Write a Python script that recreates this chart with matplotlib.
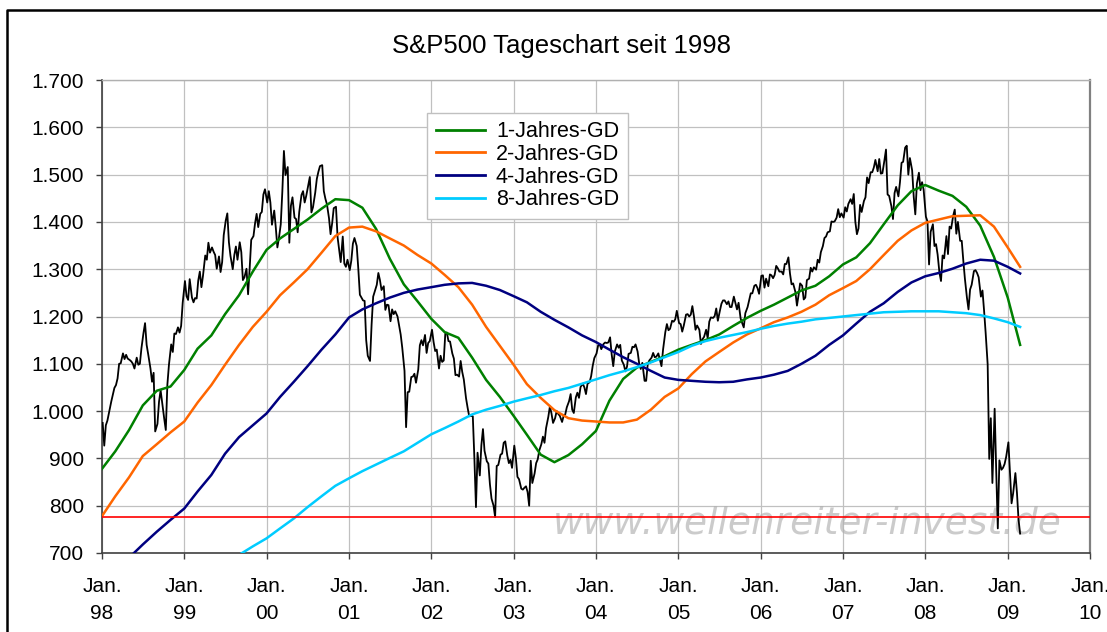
import numpy as np
import pandas as pd
import matplotlib
matplotlib.use("Agg")
import matplotlib.pyplot as plt
from matplotlib.ticker import FuncFormatter, MultipleLocator
from matplotlib.lines import Line2D

plt.rcParams['font.family'] = ['Liberation Sans', 'DejaVu Sans']

# ---------------- data (S&P 500, ~weekly, 4 values per month) ----------------
sp_1998 = [975, 927, 970, 980, 1003, 1020, 1034, 1049, 1055, 1069, 1100, 1101,
           1122, 1110, 1119, 1111, 1108, 1105, 1100, 1090, 1113, 1098, 1100, 1133,
           1165, 1186, 1140, 1120, 1090, 1062, 1081, 957, 973, 1020, 1044, 1017,
           984, 960, 1056, 1098, 1141, 1125, 1164, 1163, 1177, 1166, 1180, 1229]
sp_1999 = [1275, 1243, 1235, 1279, 1240, 1230, 1239, 1238, 1276, 1295, 1262, 1286,
           1329, 1320, 1356, 1335, 1346, 1337, 1330, 1301, 1327, 1294, 1315, 1372,
           1403, 1418, 1357, 1328, 1300, 1330, 1348, 1320, 1357, 1336, 1277, 1283,
           1301, 1247, 1301, 1362, 1370, 1397, 1417, 1389, 1417, 1421, 1458, 1469]
sp_2000 = [1441, 1465, 1441, 1394, 1424, 1388, 1346, 1366, 1395, 1464, 1550, 1499,
           1516, 1356, 1434, 1452, 1409, 1406, 1378, 1421, 1457, 1465, 1441, 1455,
           1478, 1495, 1420, 1431, 1462, 1491, 1506, 1518, 1520, 1465, 1449, 1437,
           1408, 1374, 1397, 1429, 1432, 1368, 1341, 1315, 1369, 1312, 1305, 1320]
sp_2001 = [1298, 1318, 1354, 1366, 1349, 1301, 1246, 1240, 1234, 1233, 1150, 1117,
           1106, 1183, 1242, 1253, 1267, 1292, 1277, 1256, 1264, 1214, 1225, 1224,
           1190, 1215, 1205, 1211, 1200, 1181, 1162, 1134, 1085, 966, 1040, 1041,
           1072, 1073, 1079, 1060, 1088, 1139, 1150, 1139, 1161, 1123, 1144, 1148]
sp_2002 = [1172, 1146, 1127, 1130, 1090, 1117, 1104, 1107, 1164, 1166, 1148, 1147,
           1122, 1111, 1076, 1077, 1073, 1106, 1083, 1067, 1027, 1007, 989, 990,
           989, 900, 797, 912, 864, 928, 962, 916, 894, 889, 845, 815,
           800, 776, 884, 886, 908, 910, 933, 936, 906, 890, 897, 880]
sp_2003 = [927, 901, 861, 856, 836, 834, 838, 841, 829, 800, 895, 848,
           868, 890, 898, 917, 930, 946, 933, 964, 988, 1010, 995, 975,
           985, 1000, 994, 990, 977, 990, 993, 1008, 1021, 1036, 1003, 996,
           1029, 1039, 1028, 1051, 1058, 1050, 1036, 1058, 1061, 1074, 1096, 1112]
sp_2004 = [1122, 1139, 1141, 1131, 1142, 1145, 1144, 1145, 1156, 1120, 1095, 1126,
           1141, 1134, 1140, 1107, 1098, 1084, 1094, 1121, 1123, 1136, 1135, 1141,
           1126, 1101, 1089, 1102, 1064, 1064, 1099, 1107, 1113, 1123, 1114, 1115,
           1122, 1108, 1095, 1130, 1167, 1184, 1171, 1174, 1191, 1189, 1194, 1212]
sp_2005 = [1186, 1184, 1168, 1181, 1204, 1205, 1200, 1204, 1222, 1200, 1172, 1181,
           1172, 1142, 1152, 1157, 1172, 1154, 1189, 1198, 1197, 1201, 1217, 1191,
           1212, 1227, 1234, 1234, 1226, 1232, 1220, 1220, 1242, 1228, 1215, 1229,
           1196, 1186, 1177, 1207, 1220, 1234, 1249, 1249, 1265, 1267, 1260, 1248]
sp_2006 = [1286, 1287, 1261, 1280, 1264, 1289, 1287, 1281, 1288, 1307, 1302, 1295,
           1295, 1289, 1311, 1311, 1325, 1291, 1268, 1270, 1252, 1223, 1245, 1270,
           1265, 1236, 1240, 1277, 1280, 1303, 1295, 1304, 1299, 1320, 1314, 1336,
           1349, 1366, 1369, 1378, 1380, 1401, 1400, 1401, 1409, 1427, 1410, 1418]
sp_2007 = [1409, 1431, 1422, 1438, 1448, 1438, 1459, 1400, 1374, 1386, 1436, 1421,
           1444, 1452, 1494, 1482, 1505, 1505, 1515, 1531, 1507, 1533, 1502, 1503,
           1530, 1553, 1458, 1455, 1433, 1406, 1461, 1474, 1454, 1484, 1525, 1527,
           1557, 1561, 1500, 1535, 1509, 1453, 1416, 1481, 1504, 1467, 1484, 1468]
sp_2008 = [1411, 1401, 1310, 1379, 1395, 1349, 1353, 1331, 1293, 1275, 1329, 1323,
           1370, 1332, 1390, 1386, 1413, 1426, 1375, 1400, 1360, 1360, 1318, 1280,
           1240, 1215, 1257, 1267, 1296, 1298, 1292, 1283, 1242, 1255, 1213, 1166,
           1099, 899, 985, 848, 1005, 873, 752, 896, 876, 880, 888, 903]
sp_2009 = [934, 870, 805, 826, 869, 827, 770, 741]

# Moving averages ("GD"), read every two months from Jan 1998, last point late Feb 2009
gd_1 = [878, 915, 960, 1012, 1043, 1052,
        1087, 1132, 1160, 1205, 1245, 1295,
        1341, 1365, 1385, 1405, 1428, 1448,
        1446, 1430, 1385, 1322, 1268, 1232,
        1195, 1167, 1155, 1113, 1066, 1030,
        990, 950, 908, 892, 907, 930,
        958, 1022, 1068, 1092, 1104, 1116,
        1130, 1140, 1150, 1162, 1180, 1197,
        1212, 1225, 1240, 1255, 1265, 1285,
        1310, 1325, 1355, 1395, 1435, 1465,
        1478, 1466, 1455, 1432, 1392, 1326,
        1240, 1140]
gd_2 = [778, 820, 860, 905, 930, 955,
        978, 1018, 1055, 1098, 1140, 1178,
        1210, 1245, 1272, 1300, 1335, 1370,
        1388, 1390, 1380, 1365, 1350, 1330,
        1312, 1288, 1262, 1225, 1178, 1138,
        1098, 1057, 1028, 1002, 985, 980,
        978, 976, 976, 982, 1003, 1030,
        1048, 1078, 1105, 1125, 1145, 1162,
        1175, 1188, 1198, 1210, 1225, 1245,
        1260, 1275, 1300, 1330, 1360, 1382,
        1398, 1405, 1412, 1413, 1414, 1390,
        1346, 1305]
gd_4 = [640, 665, 690, 718, 745, 770,
        794, 830, 865, 910, 945, 970,
        995, 1030, 1062, 1095, 1130, 1162,
        1198, 1215, 1228, 1240, 1250, 1257,
        1262, 1267, 1270, 1271, 1265, 1256,
        1243, 1230, 1210, 1193, 1177, 1160,
        1146, 1130, 1114, 1100, 1085, 1071,
        1066, 1064, 1062, 1061, 1062, 1067,
        1071, 1077, 1085, 1100, 1117, 1140,
        1160, 1185, 1210, 1228, 1252, 1272,
        1285, 1292, 1301, 1312, 1320, 1318,
        1305, 1291]
nan = np.nan
gd_8 = [nan, nan, nan, nan, nan, nan,
        nan, nan, nan, 672, 696, 714,
        731, 752, 773, 797, 820, 842,
        858, 873, 887, 901, 915, 933,
        951, 964, 978, 993, 1003, 1011,
        1020, 1027, 1034, 1042, 1049, 1058,
        1067, 1076, 1084, 1093, 1103, 1114,
        1125, 1138, 1148, 1155, 1161, 1167,
        1174, 1180, 1185, 1189, 1194, 1197,
        1200, 1203, 1206, 1209, 1210, 1211,
        1211, 1211, 1209, 1207, 1203, 1196,
        1188, 1178]

support_level = 777
series_labels = ['1-Jahres-GD', '2-Jahres-GD', '4-Jahres-GD', '8-Jahres-GD']
series_colors = ['#008000', '#FF6600', '#000080', '#00CCFF']
title = 'S&P500 Tageschart seit 1998'
watermark = 'www.wellenreiter-invest.de'
tick_years = list(range(1998, 2011))

# ---------------- dates ----------------
sp_values = sp_1998 + sp_1999 + sp_2000 + sp_2001 + sp_2002 + sp_2003 + \
    sp_2004 + sp_2005 + sp_2006 + sp_2007 + sp_2008 + sp_2009
months = pd.date_range('1998-01-01', '2009-02-01', freq='MS')
sp_dates = [m + pd.Timedelta(days=d) for m in months for d in (3, 10, 17, 24)]
assert len(sp_dates) == len(sp_values)
ma_dates = list(pd.date_range('1998-01-01', '2009-01-01', freq='2MS')) + [pd.Timestamp('2009-02-25')]

# ---------------- figure ----------------
W, H = 1107, 632
fig = plt.figure(figsize=(W / 100, H / 100), dpi=100)
ax = fig.add_axes([102 / W, 1 - 553 / H, (1090 - 102) / W, (553 - 80) / H])

ax.plot(sp_dates, sp_values, color='black', lw=1.3, zorder=3)
for vals, lab, col in zip([gd_1, gd_2, gd_4, gd_8], series_labels, series_colors):
    ax.plot(ma_dates, vals, color=col, lw=1.8, label=lab, zorder=4)
ax.axhline(support_level, color='#FF0000', lw=1.2, zorder=5)

ax.set_ylim(700, 1700)
ax.set_xlim(pd.Timestamp('1998-01-01'), pd.Timestamp('2010-01-01'))
ax.yaxis.set_major_locator(MultipleLocator(100))
ax.yaxis.set_major_formatter(FuncFormatter(lambda v, p: f"{int(round(v)):,}".replace(',', '.')))
ax.set_xticks([pd.Timestamp(f'{y}-01-01') for y in tick_years])
ax.set_xticklabels([f"Jan.\n{y % 100:02d}" for y in tick_years])
for lbl in ax.get_xticklabels():
    lbl.set_linespacing(1.55)

ax.grid(True, color='#c0c0c0', lw=0.9, zorder=0)
ax.set_axisbelow(True)
for s in ('left', 'bottom'):
    ax.spines[s].set_color('#404040')
    ax.spines[s].set_linewidth(1.2)
ax.spines['right'].set_color('#808080')
ax.spines['right'].set_linewidth(1.6)
ax.spines['top'].set_color('#b0b0b0')
ax.spines['top'].set_linewidth(1.0)
ax.tick_params(axis='both', colors='#404040', labelcolor='black', labelsize=15,
               length=4, width=1.0, direction='out')
ax.tick_params(axis='y', pad=9)
ax.tick_params(axis='x', pad=13)

leg = ax.legend(loc='upper left', bbox_to_anchor=((427 - 102) / 988, (553 - 112.7) / 473),
                borderaxespad=0, fontsize=15.5, frameon=True, fancybox=False,
                edgecolor='#c0c0c0', framealpha=1, handlelength=2.3, handletextpad=0.5,
                labelspacing=0.08, borderpad=0.4)
leg.get_frame().set_linewidth(1.0)
for h in leg.get_lines():
    h.set_linewidth(2.0)
leg.set_zorder(6)

ax.text((553 - 102) / 988, (553 - 533) / 473, watermark, transform=ax.transAxes,
        ha='left', va='baseline', fontsize=27, style='italic',
        family=['DejaVu Sans'], color='#b0b0b0', alpha=0.65, zorder=2)

fig.text(561 / W, 1 - 53 / H, title, ha='center', va='baseline', fontsize=18.5)

# outer chart border
fig.add_artist(Line2D([7 / W, 7 / W, 1.0], [-0.01, 1 - 10 / H, 1 - 10 / H],
                      transform=fig.transFigure, color='black', lw=1.8))

fig.savefig('out.png', dpi=100)
